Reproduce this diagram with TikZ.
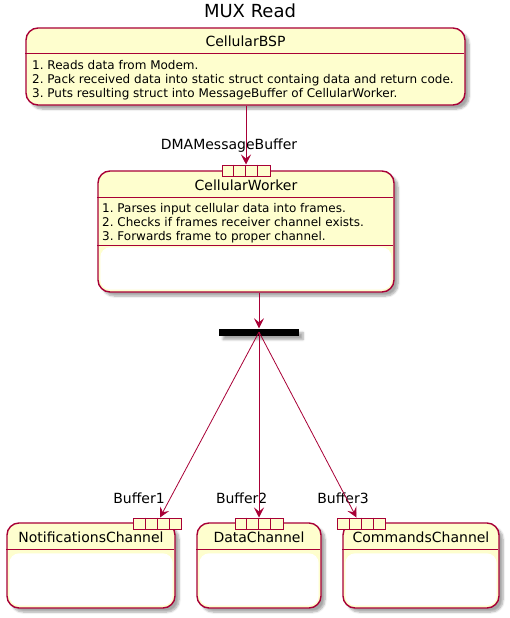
\documentclass[tikz,border=0pt]{standalone}
\usepackage{fontspec}
\setmainfont{DejaVu Sans}
\frenchspacing
\usetikzlibrary{arrows.meta,shadows,shadows.blur,positioning}
\definecolor{umlborder}{HTML}{A80036}
\definecolor{umlfill}{HTML}{FEFECE}
\tikzset{
  statebox/.style={draw=umlborder, fill=umlfill, line width=1.4pt,
    rounded corners=12pt,
    blur shadow={shadow xshift=4pt, shadow yshift=-4pt, shadow blur steps=6, shadow opacity=35}},
  sepline/.style={umlborder, line width=1.2pt},
  portbox/.style={draw=umlborder, fill=umlfill, line width=1pt,
    minimum width=48pt, minimum height=11pt, inner sep=0pt},
  portline/.style={umlborder, line width=1pt},
  namelabel/.style={font=\fontsize{14}{16}\selectfont},
  desclabel/.style={font=\fontsize{12}{14}\selectfont, align=left, inner sep=0pt, anchor=north west},
  portlabel/.style={font=\fontsize{14}{16}\selectfont},
  flow/.style={umlborder, line width=0.8pt, -{Stealth[length=10pt, width=10pt, inset=4pt]}}
}

\begin{document}
\begin{tikzpicture}[x=1pt,y=-1pt]
    \useasboundingbox (0,0) rectangle (510,618);
    % Title
    \node[font=\fontsize{18}{22}\selectfont] (title) at (250,11) {MUX Read};
    % CellularBSP
    \node[statebox, minimum width=439pt, minimum height=77pt] (bsp) at (245.5,66.5) {};
    \draw[sepline] (bsp.north west) ++(0,26) -- ++(439,0);
    \node[namelabel] (bspname) at (245.5,41) {CellularBSP};
    \node[desclabel] (bspdesc) at (32,60) {1. Reads data from Modem.\\
      2. Pack received data into static struct containg data and return code.\\
      3. Puts resulting struct into MessageBuffer of CellularWorker.};
    % CellularWorker
    \node[statebox, minimum width=296pt, minimum height=121pt] (worker) at (246,231.5) {};
    \draw[sepline] (worker.north west) ++(0,27) -- ++(296,0);
    \draw[sepline] (worker.north west) ++(0,75) -- ++(296,0);
    \fill[white, rounded corners=10pt] ([shift={(3,77)}]worker.north west)
      rectangle ([shift={(-3,-3)}]worker.south east);
    \node[namelabel] (workername) at (246,185) {CellularWorker};
    \node[desclabel] (workerdesc) at (102,203) {1. Parses input cellular data into frames.\\
      2. Checks if frames receiver channel exists.\\
      3. Forwards frame to proper channel.};
    % Channels
    \node[statebox, minimum width=168pt, minimum height=85pt] (notif) at (91,565.5) {};
    \node[statebox, minimum width=124pt, minimum height=85pt] (data) at (259,565.5) {};
    \node[statebox, minimum width=156pt, minimum height=85pt] (cmds) at (421,565.5) {};
    \foreach \ch/\w in {notif/168, data/124, cmds/156} {
      \draw[sepline] (\ch.north west) ++(0,27) -- ++(\w,0);
      \fill[white, rounded corners=10pt] ([shift={(3,31)}]\ch.north west)
        rectangle ([shift={(-3,-3)}]\ch.south east);
    }
    \node[namelabel] (notifname) at (91,537) {NotificationsChannel};
    \node[namelabel] (dataname) at (259,537) {DataChannel};
    \node[namelabel] (cmdsname) at (421,537) {CommandsChannel};
    % Ports
    \node[portbox] (dma) at (246,170.5) {};
    \node[portbox] (buf1) at (157.5,523.5) {};
    \node[portbox] (buf2) at (259,523.5) {};
    \node[portbox] (buf3) at (361.5,523.5) {};
    \foreach \p in {dma, buf1, buf2, buf3}
      \foreach \k in {1,2,3}
        \draw[portline] ([xshift=\k*12pt]\p.north west) -- ([xshift=\k*12pt]\p.south west);
    \node[portlabel] (dmalabel) at (229,146) {DMAMessageBuffer};
    \node[portlabel] (buf1label) at (139,498) {Buffer1};
    \node[portlabel] (buf2label) at (241.7,498) {Buffer2};
    \node[portlabel] (buf3label) at (343,498) {Buffer3};
    % Fork bar
    \node[fill=black, minimum width=80pt, minimum height=7pt, inner sep=0pt,
      blur shadow={shadow xshift=4pt, shadow yshift=-4pt, shadow blur steps=6, shadow opacity=35}]
      (fork) at (259,332) {};
    % Transitions
    \draw[flow] (dma.north |- bsp.south) -- (dma.north);
    \draw[flow] (fork.north |- worker.south) -- (fork.north);
    \draw[flow] (fork.center) -- ([xshift=2.5pt]buf1.north);
    \draw[flow] (fork.center) -- (buf2.north);
    \draw[flow] (fork.center) -- ([xshift=-5pt]buf3.north);
\end{tikzpicture}
\end{document}
